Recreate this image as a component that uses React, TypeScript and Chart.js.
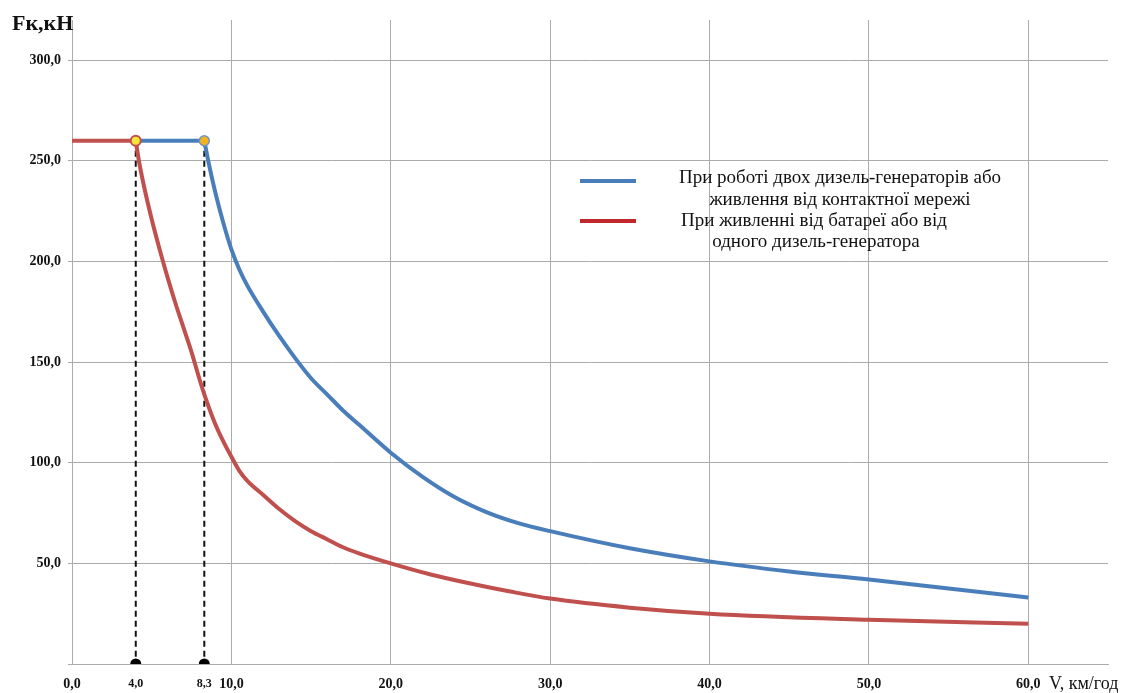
import React, { useEffect, useRef } from "react";
import { Chart, registerables } from "chart.js";

Chart.register(...registerables);

// Tick positions
const xTicks = [0, 4, 8.3, 10, 20, 30, 40, 50, 60];
const yTicks = [0, 50, 100, 150, 200, 250, 300];

// Constant-force sections
const flatRedSpeed = [0, 4];
const flatRedForce = [260, 260];
const flatBlueSpeed = [4, 8.3];
const flatBlueForce = [260, 260];

// Blue curve: two diesel generators / contact network
const blueSpeed = [8.3, 8.6, 9.0, 9.5, 10, 10.5, 11, 12, 13, 14, 15, 16, 17, 18, 20, 22, 24, 26, 28, 30, 35, 40, 45, 50, 55, 60];
const blueForce = [260, 248, 234, 219, 206, 196, 188, 175, 163, 152, 142, 134, 126, 119, 105, 93, 83, 75.5, 70, 66, 57.5, 51, 46, 42, 37.5, 33];

// Red curve: battery / one diesel generator
const redSpeed = [4, 4.2, 4.5, 5, 5.5, 6, 6.5, 7, 7.5, 8, 8.3, 9, 9.5, 10, 10.5, 11, 12, 13, 14, 15, 16, 17, 18, 20, 22.5, 25, 27.5, 30, 35, 40, 50, 60];
const redForce = [260, 250, 238, 221, 206, 192, 179, 167, 155, 141.5, 134, 119, 110.5, 103, 96, 91, 84, 77, 71, 66, 62, 58, 55, 50, 44.5, 40, 36, 32.5, 28, 25, 22, 20];

// Guide lines
const guide1Speed = [4, 4];
const guide2Speed = [8.3, 8.3];
const guideForce = [260, 0];

const legendLabels = [
  ["При роботі двох дизель-генераторів або", "живлення від контактної мережі"],
  ["При живленні від батареї або від", "одного дизель-генератора"],
];
const yTitle = "Fк,кН";
const xTitle = "V, км/год";

const BLUE = "#4a7ebb";
const RED = "#c0504d";
const GRID = "#ababab";
const SERIF = "'Liberation Serif', 'Times New Roman', serif";

const pts = (xs: number[], ys: number[]) => xs.map((x, i) => ({ x, y: ys[i] }));
const fmt = (v: number) => v.toFixed(1).replace(".", ",");

const textPlugin = {
  id: "texts",
  afterDraw(chart: any) {
    const ctx = chart.ctx;
    ctx.save();
    ctx.fillStyle = "#111";
    ctx.textBaseline = "alphabetic";
    ctx.textAlign = "left";
    ctx.font = `bold 22px ${SERIF}`;
    ctx.fillText(yTitle, 12, 30);
    ctx.font = `18px ${SERIF}`;
    ctx.fillText(xTitle, 1049, 689);

    // legend
    ctx.lineWidth = 4;
    ctx.strokeStyle = BLUE;
    ctx.beginPath();
    ctx.moveTo(580, 181);
    ctx.lineTo(636, 181);
    ctx.stroke();
    ctx.strokeStyle = "#c0282d";
    ctx.beginPath();
    ctx.moveTo(580, 221);
    ctx.lineTo(636, 221);
    ctx.stroke();

    ctx.font = `19px ${SERIF}`;
    ctx.textAlign = "center";
    ctx.textBaseline = "middle";
    ctx.fillText(legendLabels[0][0], 840, 178);
    ctx.fillText(legendLabels[0][1], 840, 200);
    ctx.fillText(legendLabels[1][0], 814, 221);
    ctx.fillText(legendLabels[1][1], 816, 242);
    ctx.restore();
  },
};

export default function App() {
  const ref = useRef<HTMLCanvasElement | null>(null);
  useEffect(() => {
    if (!ref.current) return;
    const chart = new Chart(ref.current, {
      type: "line",
      data: {
        datasets: [
          {
            data: pts(flatRedSpeed, flatRedForce),
            borderColor: RED,
            borderWidth: 4,
            pointRadius: [0, 5],
            pointBackgroundColor: "#f3e53a",
            pointBorderColor: RED,
            pointBorderWidth: 2,
            tension: 0,
          },
          {
            data: pts(flatBlueSpeed, flatBlueForce),
            borderColor: BLUE,
            borderWidth: 4,
            pointRadius: [0, 5],
            pointBackgroundColor: "#f2b41e",
            pointBorderColor: "#6f96c6",
            pointBorderWidth: 1.5,
            tension: 0,
          },
          {
            data: pts(redSpeed, redForce),
            borderColor: RED,
            borderWidth: 4,
            pointRadius: 0,
            cubicInterpolationMode: "monotone",
          },
          {
            data: pts(blueSpeed, blueForce),
            borderColor: BLUE,
            borderWidth: 4,
            pointRadius: 0,
            cubicInterpolationMode: "monotone",
          },
          {
            data: pts(guide1Speed, guideForce),
            borderColor: "#111",
            borderWidth: 2,
            borderDash: [6, 4],
            pointRadius: [0, 4.5],
            pointBackgroundColor: "#000",
            pointBorderColor: "#000",
          },
          {
            data: pts(guide2Speed, guideForce),
            borderColor: "#111",
            borderWidth: 2,
            borderDash: [6, 4],
            pointRadius: [0, 4.5],
            pointBackgroundColor: "#000",
            pointBorderColor: "#000",
          },
        ],
      },
      options: {
        animation: false,
        responsive: false,
        layout: { padding: { left: 0, right: 20, top: 20, bottom: 0 } },
        plugins: { legend: { display: false }, tooltip: { enabled: false } },
        scales: {
          x: {
            type: "linear",
            min: 0,
            max: 65,
            afterBuildTicks: (s: any) => {
              s.ticks = xTicks.map((v) => ({ value: v }));
            },
            afterFit: (s: any) => {
              s.height = 29;
            },
            grid: {
              color: (c: any) => (c.tick && (c.tick.value === 4 || c.tick.value === 8.3) ? "rgba(0,0,0,0)" : GRID),
              drawTicks: false,
            },
            border: { color: GRID },
            ticks: {
              autoSkip: false,
              maxRotation: 0,
              padding: 12,
              color: "#111",
              font: (c: any) =>
                c.tick && (c.tick.value === 4 || c.tick.value === 8.3)
                  ? { family: SERIF, size: 12, weight: "bold", lineHeight: 1.4 }
                  : { family: SERIF, size: 14, weight: "bold", lineHeight: 1.2 },
              callback: (v: any) => fmt(Number(v)),
            },
          },
          y: {
            type: "linear",
            min: 0,
            max: 320,
            afterBuildTicks: (s: any) => {
              s.ticks = yTicks.map((v) => ({ value: v }));
            },
            afterFit: (s: any) => {
              s.width = 72;
            },
            grid: { color: GRID, tickLength: 4 },
            border: { color: GRID },
            ticks: {
              padding: 7,
              color: "#111",
              font: { family: SERIF, size: 14, weight: "bold" },
              callback: (v: any) => (Number(v) === 0 ? "" : fmt(Number(v))),
            },
          },
        },
      },
      plugins: [textPlugin],
    } as any);
    return () => chart.destroy();
  }, []);
  return (
    <div style={{ position: "absolute", left: 0, top: 0, width: 1128, height: 693, background: "#fff" }}>
      <canvas ref={ref} width={1128} height={693} />
    </div>
  );
}
